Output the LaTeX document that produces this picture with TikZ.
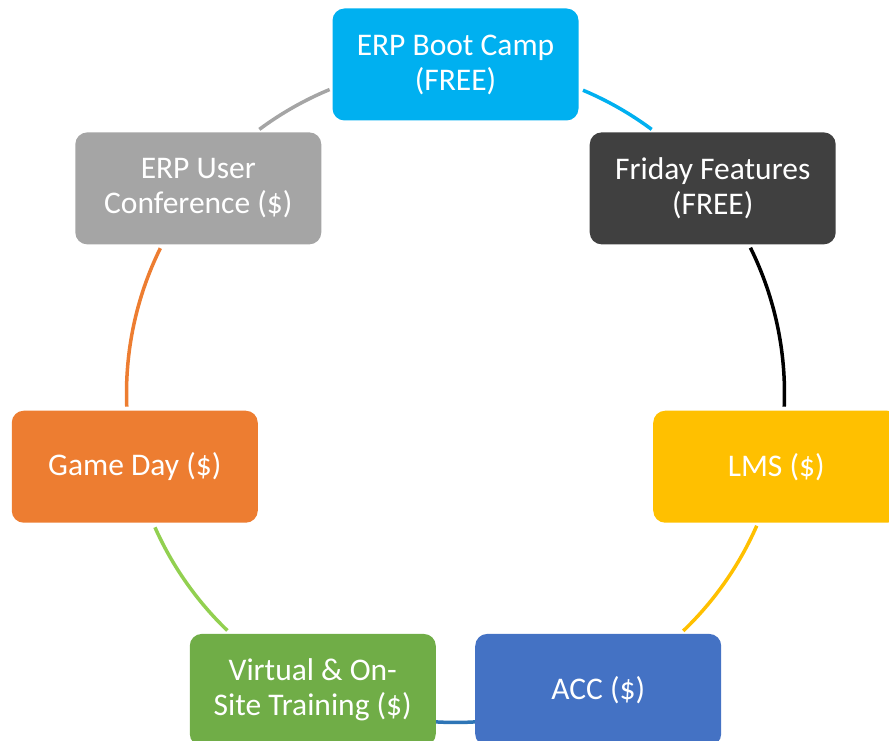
\documentclass[tikz,border=0pt]{standalone}
\usepackage{fontspec}
\setmainfont{Carlito}
\usetikzlibrary{calc}
\definecolor{cBoot}{HTML}{00B0F0}
\definecolor{cFri}{HTML}{404040}
\definecolor{cLMS}{HTML}{FFC000}
\definecolor{cACC}{HTML}{4472C4}
\definecolor{cVirt}{HTML}{70AD47}
\definecolor{cGame}{HTML}{ED7D31}
\definecolor{cConf}{HTML}{A5A5A5}
\definecolor{lBlue}{HTML}{2E75B6}
\definecolor{lGreen}{HTML}{92D050}
\tikzset{
  box/.style={draw=none, fill=#1, rounded corners=12pt, minimum width=246pt,
    minimum height=112pt, inner sep=0pt, text=white, align=center,
    font=\fontsize{31.5}{35}\selectfont},
  link/.style={draw=#1, line width=3.5pt}
}
\begin{document}
\begin{tikzpicture}[x=1pt,y=1pt]
\useasboundingbox (0,0) rectangle (889,740);
\clip (0,0) rectangle (889,740);
\coordinate (C) at (455.5,346.5);
\def\R{329}
% connectors
\draw[link=cBoot] (C) ++(67.2:\R) arc[start angle=67.2, end angle=53.4, radius=\R];
\draw[link=black] (C) ++(26.3:\R) arc[start angle=26.3, end angle=-2.3, radius=\R];
\draw[link=cLMS] (C) ++(-23.7:\R) arc[start angle=-23.7, end angle=-46.2, radius=\R];
\draw[link=lBlue] (C) ++(-86.6:\R) arc[start angle=-86.6, end angle=-93.4, radius=\R];
\draw[link=lGreen] (C) ++(-133.9:\R) arc[start angle=-133.9, end angle=-156, radius=\R];
\draw[link=cGame] (C) ++(182.3:\R) arc[start angle=182.3, end angle=153.8, radius=\R];
\draw[link=cConf] (C) ++(126.6:\R) arc[start angle=126.6, end angle=112.5, radius=\R];
% boxes
\node[box=cBoot] (boot) at ($(C)+(90:\R)$) {ERP Boot Camp\\(FREE)};
\node[box=cFri] (fri) at ($(C)+(38.57:\R)$) {Friday Features\\(FREE)};
\node[box=cLMS] (lms) at ($(C)+(-12.86:\R)$) {LMS (\$)};
\node[box=cACC] (acc) at ($(C)+(-64.29:\R)$) {ACC (\$)};
\node[box=cVirt] (virt) at ($(C)+(-115.71:\R)$) {Virtual \& On-\\Site Training (\$)};
\node[box=cGame] (game) at ($(C)+(-167.14:\R)$) {Game Day (\$)};
\node[box=cConf] (conf) at ($(C)+(141.43:\R)$) {ERP User\\Conference (\$)};
\end{tikzpicture}
\end{document}
